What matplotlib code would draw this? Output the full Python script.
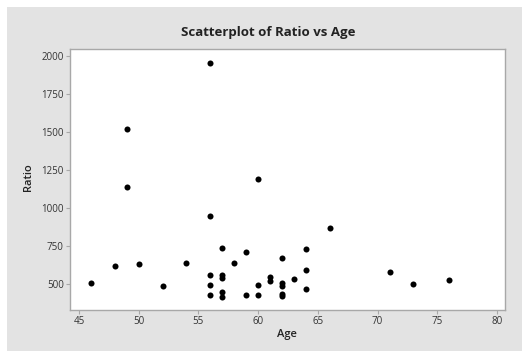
import matplotlib
matplotlib.use("Agg")
import matplotlib.pyplot as plt
from matplotlib.patches import Rectangle

# values
age = [46, 48, 49, 49, 50, 52, 54, 56, 56, 56, 56, 56, 57, 57, 57, 57, 57,
       58, 59, 59, 60, 60, 60, 61, 61, 62, 62, 62, 62, 62, 63, 64, 64, 64,
       66, 71, 73, 76]
ratio = [504, 620, 1522, 1136, 634, 487, 640, 1952, 945, 557, 491, 430, 739,
         557, 540, 450, 417, 640, 711, 428, 1193, 491, 430, 548, 522, 671,
         507, 487, 436, 421, 535, 730, 590, 467, 868, 577, 500, 524]
x_ticks = [45, 50, 55, 60, 65, 70, 75, 80]
y_ticks = [500, 750, 1000, 1250, 1500, 1750, 2000]

W, H = 522, 351
plt.rcParams['font.family'] = ['Open Sans', 'DejaVu Sans']

fig = plt.figure(figsize=(W / 100, H / 100), dpi=100, facecolor='white')
fig.add_artist(Rectangle((7 / W, 0), 1, 1 - 7 / H, transform=fig.transFigure,
                         facecolor='#e3e3e3', edgecolor='none', zorder=0))

ax = fig.add_axes([70 / W, 1 - 310 / H, 435 / W, 260.7 / H])
ax.set_facecolor('white')
ax.scatter(age, ratio, s=19, color='black', linewidths=0, zorder=3)

ax.set_xlim(44.25, 80.67)
ax.set_ylim(329, 2044)
ax.set_xticks(x_ticks)
ax.set_yticks(y_ticks)

for s in ax.spines.values():
    s.set_color('#a8a8a8')
    s.set_linewidth(1.0)
ax.tick_params(direction='out', length=3, width=0.8, color='#a8a8a8',
               labelsize=7, labelcolor='#333333', pad=1.5)

fig.text(268 / W, 1 - 32.5 / H, 'Scatterplot of Ratio vs Age', ha='center',
         va='center', fontsize=9.5, fontweight='bold', color='#222222')
fig.text(287 / W, 1 - 335 / H, 'Age', ha='center', va='center',
         fontsize=8, fontweight='semibold', color='#222222')
fig.text(29 / W, 1 - 177 / H, 'Ratio', ha='center', va='center', rotation=90,
         fontsize=8, fontweight='semibold', color='#222222')

fig.savefig('out.png', dpi=100, facecolor=fig.get_facecolor())
